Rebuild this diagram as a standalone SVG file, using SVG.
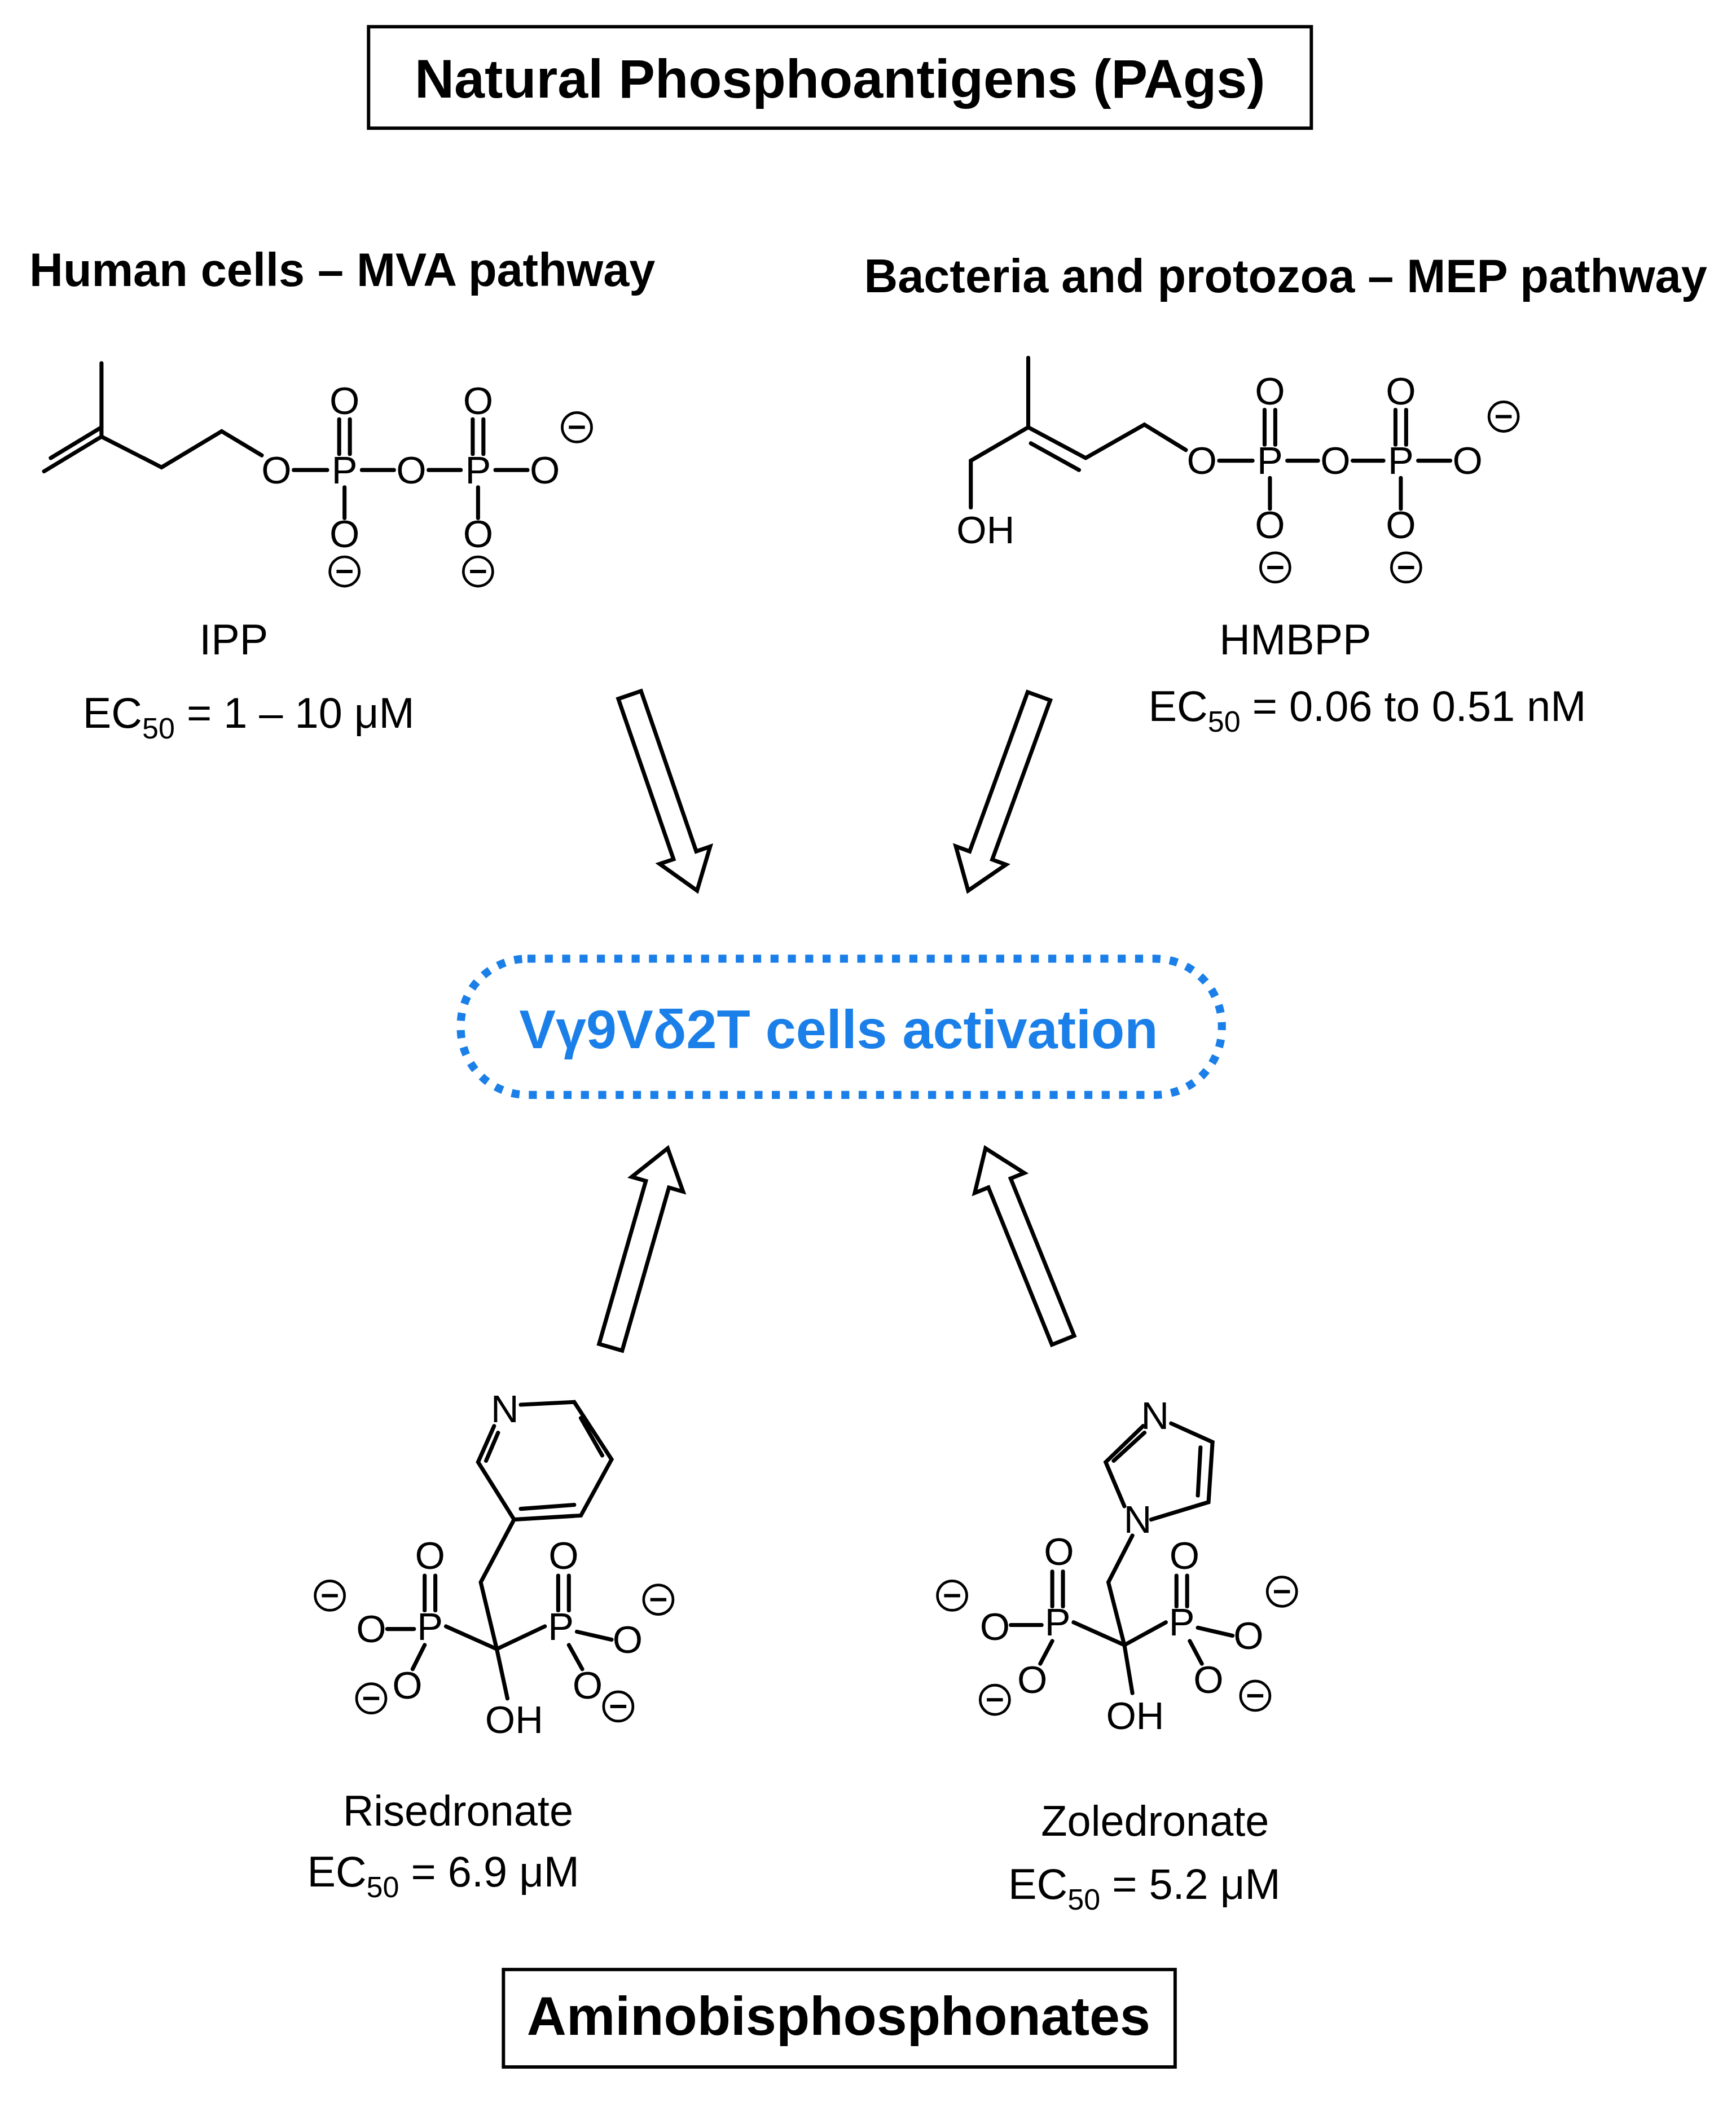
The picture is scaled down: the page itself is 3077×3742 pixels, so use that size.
<svg xmlns="http://www.w3.org/2000/svg" width="3077" height="3742" viewBox="0 0 3077 3742">
<style>
.b{stroke:#000;stroke-width:3;fill:none;stroke-linecap:round}
.a{font-family:"Liberation Sans",Arial,sans-serif;font-size:29px;text-anchor:middle}
.t{font-family:"Liberation Sans",Arial,sans-serif;font-size:32px}
.h{font-family:"Liberation Sans",Arial,sans-serif;font-size:35px;font-weight:bold}
.m{fill:#fff;stroke:#000;stroke-width:2}
.ar{fill:#fff;stroke:#000;stroke-width:3;stroke-linejoin:miter}
</style>
<defs>
<g id="minus"><circle r="11" class="m"/><line x1="-6" y1="0" x2="6" y2="0" stroke="#000" stroke-width="2.5"/></g>
<polygon id="arr" class="ar" points="0,0 20,-28 9,-28 9,-155 -9,-155 -9,-28 -20,-28"/>
</defs>
<rect width="3077" height="3742" fill="#fff"/>
<g transform="scale(2.3669)">
<g id="title1"><rect x="276" y="20" width="706" height="76" fill="none" stroke="#000" stroke-width="2.5"/><text x="629" y="73" class="h" text-anchor="middle" style="font-size:41px">Natural Phosphoantigens (PAgs)</text></g>
<g id="hdr1"><text x="22" y="214" class="h">Human cells – MVA pathway</text></g>
<g id="hdr2"><text x="647" y="219" class="h">Bacteria and protozoa – MEP pathway</text></g>

<g id="ipp">
<path class="b" d="M33,353 L76,327 M38,343 L76,320 M76,327 L76,272 M76,327 L121,350 L166,323 L196,341"/>
<text class="a" x="207" y="362">O</text><text class="a" x="258" y="362">P</text><text class="a" x="308" y="362">O</text><text class="a" x="358" y="362">P</text><text class="a" x="408" y="362">O</text>
<path class="b" d="M220,352 L245,352 M271,352 L295,352 M321,352 L345,352 M371,352 L395,352"/>
<text class="a" x="258" y="310">O</text><text class="a" x="358" y="310">O</text>
<path class="b" d="M254,314 L254,340 M262,314 L262,340 M354,314 L354,340 M362,314 L362,340 M258,365 L258,388 M358,365 L358,388"/>
<text class="a" x="258" y="410">O</text><text class="a" x="358" y="410">O</text>
<use href="#minus" x="258" y="428"/><use href="#minus" x="358" y="428"/><use href="#minus" x="432" y="320"/>
<text class="t" x="175" y="490" text-anchor="middle">IPP</text>
<text class="t" x="62" y="545">EC<tspan font-size="22" dy="8">50</tspan><tspan dy="-8"> = 1 – 10 μM</tspan></text>
</g>

<g id="hmbpp">
<path class="b" d="M770,268 L770,320 L727,345 L727,380 M770,320 L813,343 M772,332 L808,352 M813,343 L857,318 L888,337"/>
<text class="a" x="738" y="407">OH</text>
<text class="a" x="900" y="355">O</text><text class="a" x="951" y="355">P</text><text class="a" x="1000" y="355">O</text><text class="a" x="1049" y="355">P</text><text class="a" x="1099" y="355">O</text>
<path class="b" d="M913,345 L938,345 M964,345 L987,345 M1013,345 L1036,345 M1062,345 L1086,345"/>
<text class="a" x="951" y="303">O</text><text class="a" x="1049" y="303">O</text>
<path class="b" d="M947,307 L947,333 M955,307 L955,333 M1045,307 L1045,333 M1053,307 L1053,333 M951,358 L951,381 M1049,358 L1049,381"/>
<text class="a" x="951" y="403">O</text><text class="a" x="1049" y="403">O</text>
<use href="#minus" x="955" y="425"/><use href="#minus" x="1053" y="425"/><use href="#minus" x="1126" y="312"/>
<text class="t" x="970" y="490" text-anchor="middle">HMBPP</text>
<text class="t" x="860" y="540">EC<tspan font-size="22" dy="8">50</tspan><tspan dy="-8"> = 0.06 to 0.51 nM</tspan></text>
</g>

<g id="center"><rect x="345" y="718" width="570" height="102" rx="50" fill="none" stroke="#1a7fe8" stroke-width="6" stroke-dasharray="6,7"/>
<text x="628" y="785" text-anchor="middle" font-family="Liberation Sans,Arial,sans-serif" font-weight="bold" font-size="41" fill="#1a7fe8">Vγ9Vδ2T cells activation</text></g>

<g id="connectors">
<use href="#arr" transform="translate(522,667) rotate(-19)"/>
<use href="#arr" transform="translate(725,667) rotate(20)"/>
<use href="#arr" transform="translate(500,860) rotate(196)"/>
<use href="#arr" transform="translate(738,860) rotate(158)"/>
</g>

<g id="risedronate">
<text class="a" x="378" y="1065">N</text>
<path class="b" d="M390,1052 L430,1050 L458,1093 L435,1135 L385,1138 L358,1095 L370,1068 M435,1062 L451,1090 M430,1127 L390,1130 M364,1094 L373,1073 M385,1138 L360,1185 L372,1235 M334,1218 L372,1235 L408,1218 M372,1235 L380,1272"/>
<text class="a" x="322" y="1228">P</text><text class="a" x="420" y="1228">P</text>
<text class="a" x="322" y="1175">O</text><text class="a" x="422" y="1175">O</text>
<path class="b" d="M318,1180 L318,1206 M326,1180 L326,1206 M418,1180 L418,1206 M426,1180 L426,1206 M290,1220 L310,1220 M432,1222 L458,1228 M318,1232 L309,1250 M426,1232 L436,1250"/>
<text class="a" x="278" y="1230">O</text><text class="a" x="470" y="1238">O</text><text class="a" x="305" y="1272">O</text><text class="a" x="440" y="1272">O</text>
<text class="a" x="385" y="1298">OH</text>
<use href="#minus" x="247" y="1195"/><use href="#minus" x="278" y="1272"/><use href="#minus" x="493" y="1198"/><use href="#minus" x="463" y="1278"/>
<text class="t" x="343" y="1367" text-anchor="middle">Risedronate</text>
<text class="t" x="230" y="1413">EC<tspan font-size="22" dy="8">50</tspan><tspan dy="-8"> = 6.9 μM</tspan></text>
</g>

<g id="zoledronate">
<text class="a" x="865" y="1070">N</text><text class="a" x="852" y="1148">N</text>
<path class="b" d="M856,1068 L828,1095 L842,1128 M862,1138 L905,1125 L908,1080 L877,1066 M834,1094 L857,1073 M899,1084 L897,1120 M848,1150 L830,1185 L842,1232 M804,1215 L842,1232 L873,1215 M842,1232 L848,1268"/>
<text class="a" x="792" y="1225">P</text><text class="a" x="885" y="1225">P</text>
<text class="a" x="793" y="1172">O</text><text class="a" x="887" y="1175">O</text>
<path class="b" d="M788,1177 L788,1203 M796,1177 L796,1203 M881,1180 L881,1203 M889,1180 L889,1203 M757,1217 L780,1217 M897,1219 L923,1225 M788,1229 L779,1246 M891,1229 L900,1246"/>
<text class="a" x="745" y="1228">O</text><text class="a" x="935" y="1235">O</text><text class="a" x="773" y="1268">O</text><text class="a" x="905" y="1268">O</text>
<text class="a" x="850" y="1295">OH</text>
<use href="#minus" x="713" y="1195"/><use href="#minus" x="745" y="1273"/><use href="#minus" x="960" y="1192"/><use href="#minus" x="940" y="1270"/>
<text class="t" x="865" y="1375" text-anchor="middle">Zoledronate</text>
<text class="t" x="755" y="1422">EC<tspan font-size="22" dy="8">50</tspan><tspan dy="-8"> = 5.2 μM</tspan></text>
</g>

<g id="title2"><rect x="377" y="1475" width="503" height="73" fill="none" stroke="#000" stroke-width="2.5"/><text x="628" y="1524" class="h" text-anchor="middle" style="font-size:41px">Aminobisphosphonates</text></g>
</g>
</svg>
